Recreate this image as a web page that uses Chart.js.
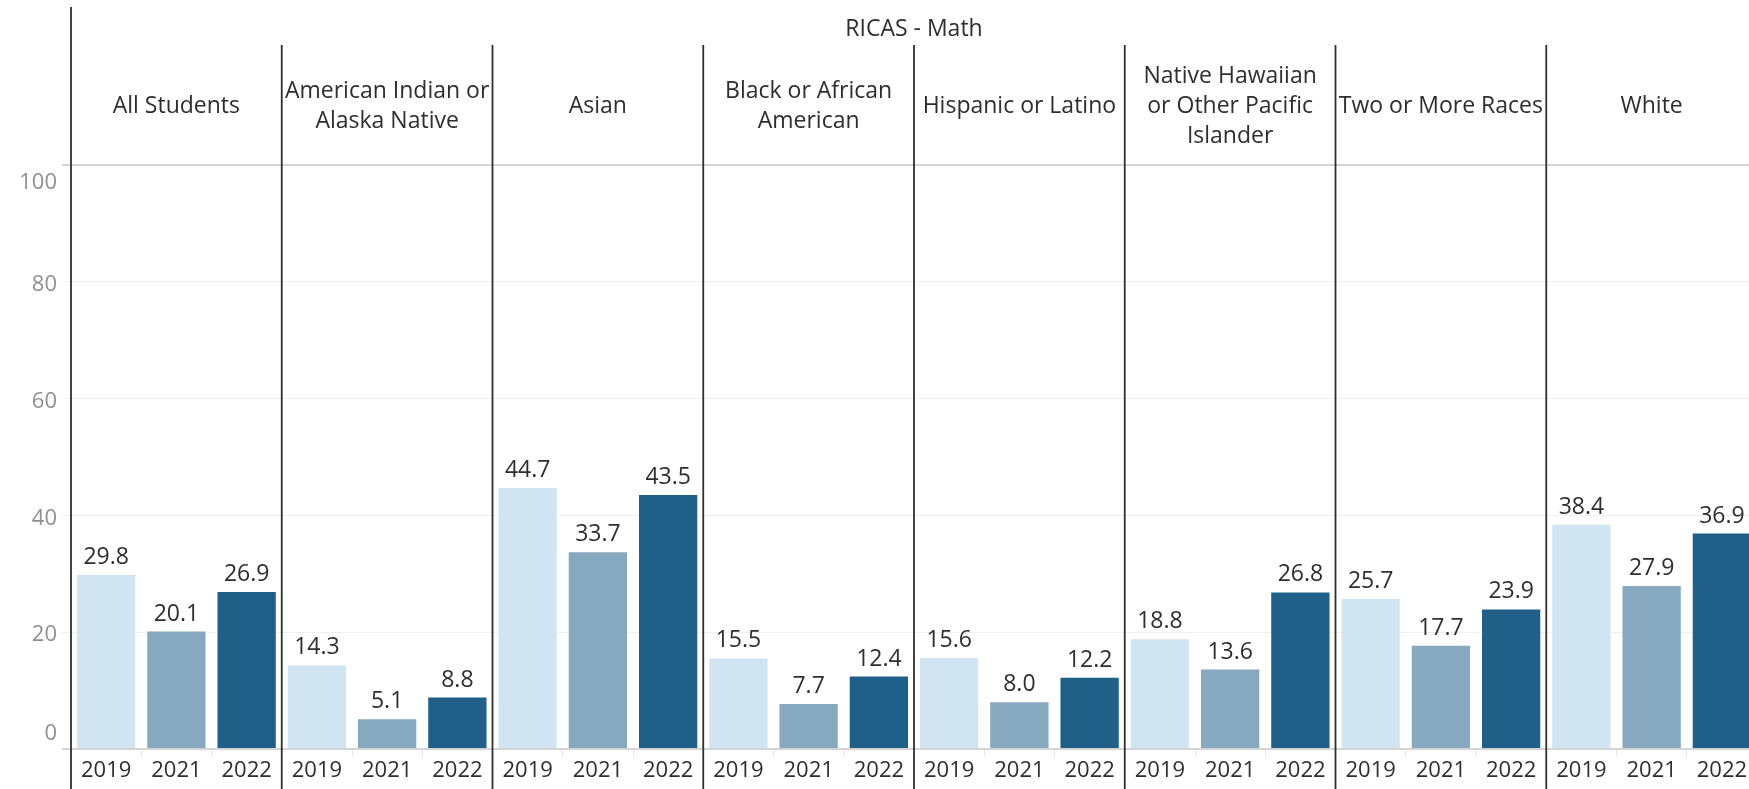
<!DOCTYPE html>
<html>
<head>
<meta charset="utf-8">
<title>RICAS - Math</title>
<script src="https://cdn.jsdelivr.net/npm/chart.js@4"></script>
<style>
  html, body { margin: 0; padding: 0; background: #fff; overflow: hidden; }
  canvas { display: block; }
</style>
</head>
<body>
<canvas id="chartRicas" width="1757" height="789"></canvas>
<script>
const title = 'RICAS - Math';
const groups = [
  ['All Students'],
  ['American Indian or', 'Alaska Native'],
  ['Asian'],
  ['Black or African', 'American'],
  ['Hispanic or Latino'],
  ['Native Hawaiian', 'or Other Pacific', 'Islander'],
  ['Two or More Races'],
  ['White'],
];
const years = ['2019', '2021', '2022'];
const values2019 = [29.8, 14.3, 44.7, 15.5, 15.6, 18.8, 25.7, 38.4];
const values2021 = [20.1, 5.1, 33.7, 7.7, 8.0, 13.6, 17.7, 27.9];
const values2022 = [26.9, 8.8, 43.5, 12.4, 12.2, 26.8, 23.9, 36.9];
const yTicks = [0, 20, 40, 60, 80, 100];

const yearColors = ['#d0e4f2', '#87a9bf', '#1f5f88'];
const FONT = "'Open Sans', sans-serif";
const TEXT = '#2e2e2e';

// one category per (group, year)
const labels = [];
const values = [];
const colors = [];
groups.forEach((g, i) => {
  [values2019, values2021, values2022].forEach((arr, j) => {
    labels.push(years[j]);
    values.push(arr[i]);
    colors.push(yearColors[j]);
  });
});

const overlay = {
  id: 'overlay',
  afterDatasetsDraw(chart) {
    const { ctx } = chart;
    const meta = chart.getDatasetMeta(0);
    ctx.save();
    ctx.font = `23px ${FONT}`;
    ctx.fillStyle = TEXT;
    ctx.textAlign = 'center';
    ctx.textBaseline = 'alphabetic';
    meta.data.forEach((bar, i) => {
      ctx.fillText(values[i].toFixed(1), bar.x, bar.y - 11);
    });
    ctx.restore();
  },
  afterDraw(chart) {
    const { ctx, chartArea, scales: { x, y } } = chart;
    const step = x.getPixelForValue(1) - x.getPixelForValue(0);
    const bounds = [];
    for (let g = 0; g <= groups.length; g++) {
      bounds.push(x.getPixelForValue(g * years.length) - step / 2);
    }

    ctx.save();
    // y tick labels
    ctx.font = `22px ${FONT}`;
    ctx.fillStyle = '#8f8f8f';
    ctx.textAlign = 'right';
    yTicks.forEach((v) => {
      const py = y.getPixelForValue(v);
      if (v === y.max) {
        ctx.textBaseline = 'top';
        ctx.fillText(String(v), 57, py + 7);
      } else if (v === y.min) {
        ctx.textBaseline = 'bottom';
        ctx.fillText(String(v), 57, py - 4);
      } else {
        ctx.textBaseline = 'middle';
        ctx.fillText(String(v), 57, py + 3);
      }
    });

    // title
    ctx.font = `23px ${FONT}`;
    ctx.fillStyle = TEXT;
    ctx.textAlign = 'center';
    ctx.textBaseline = 'middle';
    ctx.fillText(title, (chartArea.left + chartArea.right) / 2, 29);

    // group headers
    const lineH = 30;
    groups.forEach((lines, g) => {
      const cx = (bounds[g] + bounds[g + 1]) / 2;
      const top = 106 - ((lines.length - 1) * lineH) / 2;
      lines.forEach((t, k) => ctx.fillText(t, cx, top + k * lineH));
    });

    // panel dividers
    ctx.strokeStyle = '#2f2f2f';
    ctx.lineWidth = 1.8;
    bounds.forEach((bx, g) => {
      ctx.beginPath();
      ctx.moveTo(bx, g === 0 ? 7 : 45);
      ctx.lineTo(bx, chart.height);
      ctx.stroke();
    });
    ctx.restore();
  },
};

Chart.defaults.font.family = FONT;

new Chart(document.getElementById('chartRicas'), {
  type: 'bar',
  data: {
    labels,
    datasets: [{
      data: values,
      backgroundColor: colors,
      borderWidth: 0,
      barPercentage: 0.83,
      categoryPercentage: 1,
    }],
  },
  options: {
    responsive: false,
    animation: false,
    devicePixelRatio: 1,
    layout: { padding: { top: 165, left: 0, right: 0, bottom: 0 } },
    plugins: { legend: { display: false }, tooltip: { enabled: false } },
    scales: {
      x: {
        border: { display: false },
        grid: { drawOnChartArea: false, drawTicks: true, tickLength: 7, color: '#e6e6e6', offset: true },
        ticks: { color: TEXT, font: { size: 22 }, padding: 2, maxRotation: 0, autoSkip: false },
        afterFit(scale) { scale.height = 40; },
      },
      y: {
        min: 0,
        max: 100,
        border: { display: false },
        ticks: { display: false, stepSize: 20 },
        grid: {
          tickLength: 9,
          color: (c) => (c.tick.value === 0 || c.tick.value === 100 ? '#d4d4d4' : '#efefef'),
          lineWidth: (c) => (c.tick.value === 0 || c.tick.value === 100 ? 2 : 1),
        },
        afterFit(scale) { scale.width = 71; },
      },
    },
  },
  plugins: [overlay],
});
</script>
</body>
</html>
